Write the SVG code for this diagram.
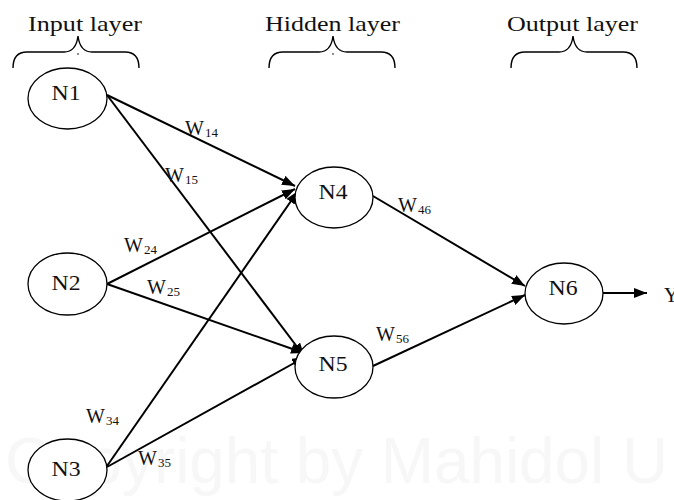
<svg xmlns="http://www.w3.org/2000/svg" width="674" height="500" viewBox="0 0 674 500">
  <defs>
    <marker id="arrow" markerUnits="userSpaceOnUse" markerWidth="14" markerHeight="10" refX="13" refY="5" orient="auto">
      <path d="M0,0 L13,5 L0,10 z" fill="#000"/>
    </marker>
    <style>
      text { font-family: "Liberation Serif", "Times New Roman", serif; fill: #111; }
      .title { font-size: 21px; }
      .node ellipse { fill: #fff; stroke: #000; stroke-width: 1.3; }
      .node text { font-size: 21px; text-anchor: middle; }
      .brace { fill: none; stroke: #000; stroke-width: 1.4; }
      .edge { stroke: #000; stroke-width: 2; fill: none; marker-end: url(#arrow); }
      .w { font-size: 20px; }
      .sub { font-size: 13px; }
      .mark { font-family: "Liberation Sans", Arial, sans-serif; font-size: 64px; fill: #f7f7f7; }
    </style>
  </defs>

  <rect width="674" height="500" fill="#fff"/>

  <!-- watermark -->
  <text class="mark" x="5" y="483" textLength="663" lengthAdjust="spacingAndGlyphs">Copyright by Mahidol U</text>

  <!-- layer titles and braces -->
  <g id="layer-titles">
    <text class="title" x="28" y="31" textLength="114" lengthAdjust="spacingAndGlyphs">Input layer</text>
    <text class="title" x="265" y="31" textLength="135" lengthAdjust="spacingAndGlyphs">Hidden layer</text>
    <text class="title" x="507" y="31" textLength="131" lengthAdjust="spacingAndGlyphs">Output layer</text>
  </g>
  <g id="braces">
    <path class="brace" d="M13,68 Q13,52 27,52 L64,52 Q76,52 78,36 Q80,52 92,52 L125,52 Q139,52 139,68"/>
    <path class="brace" d="M269,68 Q269,52 283,52 L319,52 Q331,52 333,36 Q335,52 347,52 L381,52 Q395,52 395,68"/>
    <path class="brace" d="M511,68 Q511,52 525,52 L559,52 Q571,52 573,36 Q575,52 587,52 L623,52 Q637,52 637,68"/>
    <circle cx="78" cy="54" r="0.8" fill="#000"/>
    <circle cx="333" cy="54" r="0.8" fill="#000"/>
  </g>

  <!-- connectors -->
  <g id="connectors">
    <line class="edge" x1="107" y1="95" x2="295" y2="186"/>
    <line class="edge" x1="107" y1="95" x2="304" y2="356"/>
    <line class="edge" x1="107" y1="284" x2="295" y2="189"/>
    <line class="edge" x1="107" y1="284" x2="304" y2="353"/>
    <line class="edge" x1="107" y1="466" x2="298" y2="191"/>
    <line class="edge" x1="107" y1="467" x2="305" y2="357"/>
    <line class="edge" x1="373" y1="196" x2="525" y2="286"/>
    <line class="edge" x1="373" y1="366" x2="525" y2="295"/>
    <line class="edge" x1="603" y1="293" x2="647" y2="293"/>
  </g>

  <!-- weight labels -->
  <g id="weights">
    <text class="w" x="185" y="135">W<tspan class="sub" dy="2" dx="1">14</tspan></text>
    <text class="w" x="165" y="182">W<tspan class="sub" dy="2" dx="1">15</tspan></text>
    <text class="w" x="124" y="252">W<tspan class="sub" dy="2" dx="1">24</tspan></text>
    <text class="w" x="147" y="294">W<tspan class="sub" dy="2" dx="1">25</tspan></text>
    <text class="w" x="86" y="423">W<tspan class="sub" dy="2" dx="1">34</tspan></text>
    <text class="w" x="138" y="465">W<tspan class="sub" dy="2" dx="1">35</tspan></text>
    <text class="w" x="398" y="212">W<tspan class="sub" dy="2" dx="1">46</tspan></text>
    <text class="w" x="376" y="341">W<tspan class="sub" dy="2" dx="1">56</tspan></text>
  </g>

  <!-- nodes -->
  <g id="N1" class="node">
    <ellipse cx="67.5" cy="98.5" rx="39.5" ry="30.5"/>
    <text x="66" y="100" textLength="29" lengthAdjust="spacingAndGlyphs">N1</text>
  </g>
  <g id="N2" class="node">
    <ellipse cx="67.5" cy="284" rx="39.5" ry="31"/>
    <text x="66" y="290" textLength="29" lengthAdjust="spacingAndGlyphs">N2</text>
  </g>
  <g id="N3" class="node">
    <ellipse cx="67.5" cy="470" rx="39.5" ry="31"/>
    <text x="66" y="476" textLength="29" lengthAdjust="spacingAndGlyphs">N3</text>
  </g>
  <g id="N4" class="node">
    <ellipse cx="334" cy="197.5" rx="39" ry="30.5"/>
    <text x="333" y="199" textLength="29" lengthAdjust="spacingAndGlyphs">N4</text>
  </g>
  <g id="N5" class="node">
    <ellipse cx="334" cy="367" rx="39" ry="31"/>
    <text x="333" y="371" textLength="29" lengthAdjust="spacingAndGlyphs">N5</text>
  </g>
  <g id="N6" class="node">
    <ellipse cx="564" cy="293.5" rx="39" ry="30.5"/>
    <text x="563" y="295" textLength="29" lengthAdjust="spacingAndGlyphs">N6</text>
  </g>

  <!-- network output -->
  <text id="output-y" class="w" x="664" y="302">Y</text>
</svg>
